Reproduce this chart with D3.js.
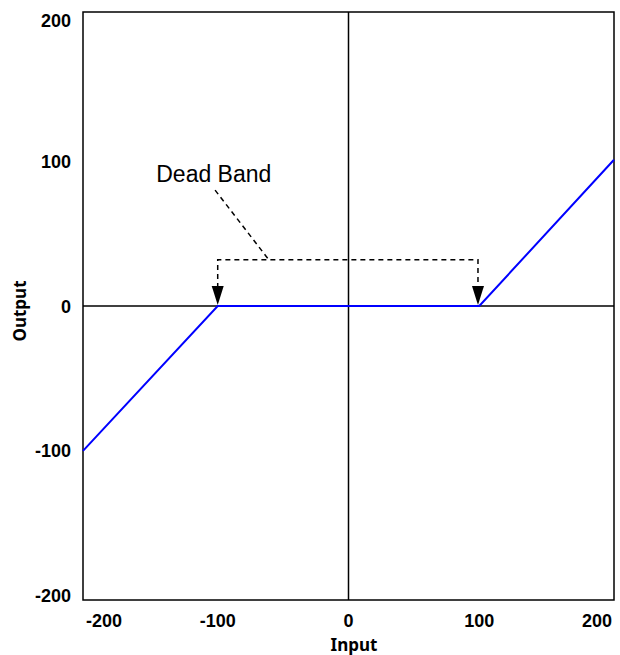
<!DOCTYPE html>
<meta charset="utf-8">
<script src="https://d3js.org/d3.v7.min.js"></script>
<style>
  body { margin: 0; background: #fff; }
</style>
<div id="chart"></div>
<script>
// data
var inputVals = [-203, -100, 100, 203];
var outputVals = [-100, 0, 0, 101];
var xTicks = [-200, -100, 0, 100, 200];
var yTicks = [-200, -100, 0, 100, 200];
var bandLabel = "Dead Band";
var bandLevel = 32;          // output level of the dashed bracket
var bandEnds = [-100, 99];   // input values the arrows point to

var width = 620, height = 655;
var svg = d3.select("#chart").append("svg")
    .attr("width", width)
    .attr("height", height);

var x = d3.scaleLinear().domain([-203, 203]).range([83, 614]);
var y = d3.scaleLinear().domain([-203, 203]).range([600, 12]);

// frame
svg.append("rect")
    .attr("x", x(-203)).attr("y", y(203))
    .attr("width", x(203) - x(-203)).attr("height", y(-203) - y(203))
    .attr("fill", "none").attr("stroke", "#000").attr("stroke-width", 1.5);

// zero lines
svg.append("line")
    .attr("x1", x(-203)).attr("x2", x(203)).attr("y1", y(0)).attr("y2", y(0))
    .attr("stroke", "#000").attr("stroke-width", 1.5);
svg.append("line")
    .attr("x1", x(0)).attr("x2", x(0)).attr("y1", y(203)).attr("y2", y(-203))
    .attr("stroke", "#000").attr("stroke-width", 1.5);

// tick labels
svg.selectAll(".xt").data(xTicks).enter().append("text")
    .attr("x", function (d) { return Math.max(104, Math.min(597, x(d))); })
    .attr("y", 627)
    .attr("text-anchor", "middle")
    .style("font", "bold 18px 'Liberation Sans', Arial, sans-serif")
    .text(function (d) { return d; });

svg.selectAll(".yt").data(yTicks).enter().append("text")
    .attr("x", 71)
    .attr("y", function (d) { return Math.max(20, Math.min(595, y(d))) + 6.5; })
    .attr("text-anchor", "end")
    .style("font", "bold 18px 'Liberation Sans', Arial, sans-serif")
    .text(function (d) { return d; });

// axis titles
svg.append("text")
    .attr("x", 354).attr("y", 651)
    .attr("text-anchor", "middle")
    .style("font", "bold 17px 'Noto Sans', sans-serif")
    .text("Input");
svg.append("text")
    .attr("transform", "translate(26,311) rotate(-90)")
    .attr("text-anchor", "middle")
    .style("font", "bold 17px 'Noto Sans', sans-serif")
    .text("Output");

// response line
var pts = inputVals.map(function (v, i) { return [v, outputVals[i]]; });
svg.append("path")
    .attr("d", d3.line().x(function (d) { return x(d[0]); }).y(function (d) { return y(d[1]); })(pts))
    .attr("fill", "none").attr("stroke", "#0000ff").attr("stroke-width", 2);

// dead band annotation
svg.append("text")
    .attr("x", x(-147)).attr("y", 182)
    .style("font", "23px 'Liberation Sans', Arial, sans-serif")
    .text(bandLabel);

var dash = { "stroke": "#000", "stroke-width": 1.5, "stroke-dasharray": "5,4", "fill": "none" };
function dashed(sel) { for (var k in dash) sel.attr(k, dash[k]); return sel; }

dashed(svg.append("line")
    .attr("x1", x(-102)).attr("y1", y(80))
    .attr("x2", x(-61)).attr("y2", y(bandLevel)));

dashed(svg.append("path")
    .attr("d", "M" + x(bandEnds[0]) + "," + (y(0) - 18) +
               "V" + y(bandLevel) +
               "H" + x(bandEnds[1]) +
               "V" + (y(0) - 18)));

bandEnds.forEach(function (v) {
    var tipX = x(v), tipY = y(0) - 1;
    svg.append("path")
        .attr("d", "M" + (tipX - 6) + "," + (tipY - 19) + "L" + (tipX + 6) + "," + (tipY - 19) + "L" + tipX + "," + tipY + "Z")
        .attr("fill", "#000");
});
</script>
